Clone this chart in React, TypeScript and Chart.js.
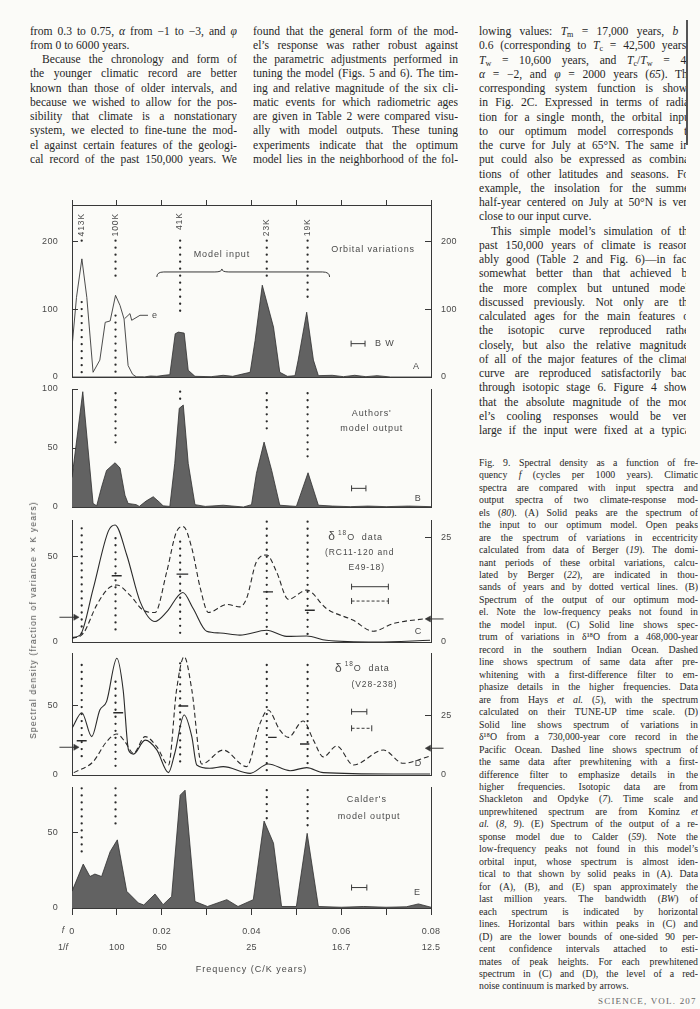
import React, { useEffect, useRef } from 'react';
import { Chart, registerables } from 'chart.js';

Chart.register(...registerables);

const FONT = '"Liberation Sans", Arial, sans-serif';
const SERIF = '"Liberation Serif", "Times New Roman", serif';
const INK = '#383838';
const TXT = '#4a4a4a';
const FILL = '#626262';
const PAPER = '#fbfbf8';

// ---------------- data ----------------
const X_TICKS = [0, 0.01, 0.02, 0.03, 0.04, 0.05, 0.06, 0.07, 0.08];
const FREQ_LABELS = ['0', '', '0.02', '', '0.04', '', '0.06', '', '0.08'];
const PERIOD_LABELS = ['', '100', '50', '', '25', '', '16.7', '', '12.5'];

const PERIOD_NAMES = ['413K', '100K', '41K', '23K', '19K'];
const PERIOD_FREQ = [0.00216, 0.0097, 0.0241, 0.0434, 0.0525];

// (A) orbital variations
const ECCENTRICITY_A = [
  [0, 44], [0.001, 118], [0.0022, 175], [0.0033, 118], [0.0047, 7], [0.0062, 25],
  [0.0074, 81], [0.0085, 83], [0.0097, 121], [0.0107, 106], [0.0116, 86], [0.0125, 17],
  [0.0135, 4], [0.0144, 0], [0.016, 0],
];
const ORBITAL_INPUT_A = [
  [0, 0], [0.016, 0], [0.0175, 1.5], [0.0189, 1], [0.0205, 2.5], [0.0218, 3.5], [0.023, 64],
  [0.0237, 66.5], [0.025, 65], [0.0259, 10], [0.0274, 1], [0.031, 0.5], [0.0337, 2.5],
  [0.0358, 1], [0.0397, 7], [0.0408, 54], [0.0424, 136], [0.0449, 74], [0.0463, 7],
  [0.048, 1], [0.0497, 2], [0.0504, 25], [0.0523, 96], [0.0538, 25], [0.0549, 2],
  [0.058, 2.5], [0.0605, 0.5], [0.063, 2.5], [0.0655, 0.5], [0.068, 2], [0.071, 0], [0.08, 0],
];
const E_ARROW_A = [[0.01174, 86.5], [0.01292, 93.9], [0.0133, 84], [0.01515, 91.4], [0.01693, 91.4]];

// (B) authors' model output
const MODEL_OUTPUT_B = [
  [0, 25], [0.0024, 97.7], [0.0047, 3], [0.0055, 1], [0.0066, 17], [0.0077, 31], [0.0096, 37.5],
  [0.0107, 33], [0.0118, 10], [0.0125, 3], [0.0143, 2], [0.015, 0.5], [0.0165, 5], [0.0181, 8.7],
  [0.0195, 4], [0.0203, 1], [0.0218, 0.5], [0.0229, 37], [0.0239, 83.6], [0.0248, 86.4],
  [0.0259, 37], [0.0274, 2], [0.0297, 0.5], [0.0337, 1.5], [0.0382, 0], [0.04, 2], [0.0411, 28.5],
  [0.0428, 55], [0.0445, 31], [0.0463, 1.5], [0.05, 0.5], [0.0526, 29], [0.0549, 1.5],
  [0.058, 0.8], [0.062, 0.3], [0.066, 0.8], [0.07, 0.3], [0.075, 0.8], [0.08, 0.3],
];

// (C) d18O RC11-120 and E49-18
const DATA_C_SOLID = [
  [0, 2.6], [0.0018, 4], [0.0047, 31], [0.0081, 65], [0.0096, 68.6], [0.0122, 51], [0.0152, 23.5],
  [0.0185, 12], [0.0211, 17.6], [0.0247, 29], [0.027, 19.6], [0.03, 6.3], [0.033, 5.3],
  [0.0374, 4], [0.0434, 6.9], [0.0478, 3.3], [0.0523, 3.5], [0.0567, 1], [0.0679, 0], [0.0798, 1],
];
const DATA_C_DASHED = [
  [0, 2], [0.0025, 5], [0.0055, 21.6], [0.0081, 31.4], [0.01, 33.4], [0.0129, 27.5], [0.0159, 18.6],
  [0.0185, 17.3], [0.0211, 41], [0.0233, 64.7], [0.0248, 67.6], [0.0267, 55], [0.0286, 31.4],
  [0.0304, 17.3], [0.0345, 22], [0.0374, 20.6], [0.0389, 25.5], [0.0411, 47], [0.0434, 51],
  [0.0456, 41], [0.0482, 25], [0.0523, 30.4], [0.0567, 19.6], [0.0627, 12.7], [0.0671, 6.3],
  [0.0716, 10.8], [0.0798, 14],
];
const CONF_BARS_C = [[0.00885, 0.01107, 38.8], [0.0233, 0.0259, 39.8], [0.0426, 0.0448, 29.4], [0.0519, 0.0541, 18.6]];

// (D) d18O V28-238
const DATA_D_SOLID = [
  [0, 33.5], [0.0022, 44.7], [0.0044, 27.5], [0.0062, 46.6], [0.0077, 52.6], [0.01, 83.7],
  [0.0114, 61], [0.0126, 17.9], [0.0137, 15], [0.0163, 25], [0.0189, 18], [0.0215, 1.7],
  [0.0229, 15.6], [0.025, 43], [0.0267, 27.5], [0.0278, 7.2], [0.0307, 4.8], [0.0337, 6],
  [0.0397, 1.2], [0.0437, 7.9], [0.0486, 3.1], [0.0523, 5.3], [0.056, 1.7], [0.0716, 0.7], [0.0798, 0.7],
];
const DATA_D_DASHED = [
  [0.0004, 1.7], [0.0047, 9.5], [0.0077, 23.9], [0.01, 29.4], [0.0118, 23.9], [0.0137, 15.6],
  [0.0163, 27.5], [0.0189, 20.3], [0.0215, 7.2], [0.0233, 61], [0.025, 84.9], [0.0267, 61],
  [0.0289, 7.9], [0.0337, 17.9], [0.0389, 6], [0.0419, 37], [0.0437, 46.6], [0.0463, 32.3],
  [0.0482, 27], [0.0515, 38.7], [0.0538, 25], [0.056, 13], [0.059, 20.8], [0.0627, 7.2],
  [0.0694, 17.9], [0.0738, 8.4], [0.0798, 13.6],
];
const CONF_BARS_D = [[0.00105, 0.00327, 24.6], [0.0092, 0.0114, 44.7], [0.0237, 0.0259, 49.5], [0.0437, 0.0456, 27], [0.0508, 0.0529, 22.2]];

// (E) Calder's model output
const CALDER_E = [
  [0, 11], [0.0025, 29], [0.004, 20.8], [0.0051, 22.4], [0.0066, 20.8], [0.0085, 37.2], [0.0101, 45],
  [0.0122, 11], [0.0148, 3.3], [0.016, 2], [0.0185, 9.2], [0.0203, 2.2], [0.0222, 7.6],
  [0.0241, 74.5], [0.0252, 77.8], [0.0274, 4.3], [0.0302, 1], [0.0345, 5.5], [0.037, 1],
  [0.0404, 5.5], [0.0428, 57.4], [0.0449, 42.8], [0.0467, 1], [0.05, 1], [0.0524, 49.3],
  [0.0549, 1], [0.06, 0.5], [0.065, 1], [0.07, 0.5], [0.0745, 0.8], [0.0772, 2.7], [0.08, 0.5],
];

// dotted period lines: [frequency, top, bottom]
const DOTS_A = [[0.00216, 202, 192], [0.00216, 111, 4], [0.0097, 202, 143], [0.0097, 91, 4], [0.0241, 202, 94], [0.0434, 202, 143], [0.0525, 202, 116]];
const DOTS_B = [[0.0097, 96.4, 49.7], [0.0241, 97.7, 90.7], [0.0434, 96.4, 62.5], [0.0525, 96.4, 37]];
const DOTS_C = [[0.00216, 66.6, 3.1], [0.0097, 60.8, 4.1], [0.0241, 58.8, 4.1], [0.0434, 70.5, 4.1], [0.0525, 70.5, 4.1]];
const DOTS_D = [[0.00216, 78.9, 9.5], [0.0097, 66.9, 3.6], [0.0241, 80.1, 6], [0.0434, 78.9, 2.4], [0.0525, 78.9, 3.6]];
const DOTS_E = [[0.00216, 79, 35], [0.0097, 79, 51.5], [0.0434, 77.8, 55.9], [0.0525, 77.8, 52.6]];

// bandwidth bars [f1, f2, level]
const BW_A = [0.0622, 0.0653, 49.4];
const BW_B = [0.0623, 0.0655, 15.8];
const BW_C_SOLID = [0.0623, 0.0705, 32.4];
const BW_C_DASHED = [0.0623, 0.0705, 24];
const BW_D_SOLID = [0.0623, 0.0657, 45.4];
const BW_D_DASHED = [0.0623, 0.0668, 33.5];
const BW_E = [0.0623, 0.0657, 13.5];

// red-noise arrows [from f, to f, level]
const ARROWS_C = [[-0.0028, 0.0008, 14.5], [0.0828, 0.0795, 13.5]];
const ARROWS_D = [[-0.0028, 0.0008, 19.9], [0.0828, 0.0795, 19.2]];

// axis ticks
const A_TICKS = [0, 100, 200];
const B_TICKS = [0, 50, 100];
const C_TICKS = [0, 50];
const C_RIGHT_TICKS = [0, 25];
const D_TICKS = [0, 50];
const D_RIGHT_TICKS = [0, 25];
const E_TICKS = [0, 50];

// ---------------- dataset helpers ----------------
const pts = (arr: number[][]) => arr.map(([x, y]) => ({ x, y }));
const base = { xAxisID: 'x', yAxisID: 'y', pointRadius: 0, tension: 0, fill: false };

const areaDS = (arr: number[][]) => ({
  ...base, data: pts(arr), fill: 'origin', backgroundColor: FILL, borderColor: '#2e2e2e', borderWidth: 0.8,
});
const curveDS = (arr: number[][], dashed = false) => ({
  ...base, data: pts(arr), borderColor: '#2a2a2a', borderWidth: 1.1, cubicInterpolationMode: 'monotone',
  borderDash: dashed ? [5, 3] : [],
});
const dotsDS = (segs: number[][]) => ({
  ...base,
  data: segs.flatMap(([f, t, b]) => [{ x: f, y: t }, { x: f, y: b }, { x: f, y: null }]),
  borderColor: '#2a2a2a', borderWidth: 2.3, borderDash: [0.01, 7], borderCapStyle: 'round', spanGaps: false,
});
const barsDS = (list: number[][]) => ({
  ...base,
  data: list.flatMap(([a, b, v]) => [{ x: a, y: v }, { x: b, y: v }, { x: b, y: null }]),
  borderColor: '#2a2a2a', borderWidth: 1.4, spanGaps: false,
});
const bwDS = ([a, b, v]: number[], dashed = false) => ({
  ...base, data: [{ x: a, y: v }, { x: b, y: v }], borderColor: INK, borderWidth: 1,
  borderDash: dashed ? [3, 2] : [], pointRadius: 3, pointStyle: 'line', pointRotation: 90,
  pointBorderColor: INK, pointBorderWidth: 1,
});
const arrowDS = ([a, b, v]: number[]) => ({
  ...base, data: [{ x: a, y: v }, { x: b, y: v }], borderColor: INK, borderWidth: 1, clip: false,
  pointRadius: [0, 3.5], pointStyle: 'triangle', pointRotation: b > a ? 90 : 270,
  pointBackgroundColor: INK, pointBorderColor: INK, pointBorderWidth: 0.5,
});
const lineDS = (arr: number[][]) => ({ ...base, data: pts(arr), borderColor: INK, borderWidth: 0.9 });

// ---------------- scales ----------------
const noPad = (s: any) => { s.paddingTop = 0; s.paddingBottom = 0; s.paddingLeft = 0; s.paddingRight = 0; };

const yAxis = (pos: string, max: number, ticks: number[], show = true) => ({
  type: 'linear', position: pos, min: 0, max,
  afterBuildTicks: (s: any) => { s.ticks = ticks.map((v) => ({ value: v })); },
  afterFit: (s: any) => { s.width = pos === 'left' ? 72 : 49; noPad(s); },
  grid: { display: true, drawOnChartArea: false, drawTicks: show, tickLength: -6, color: INK, lineWidth: 1 },
  border: { display: true, color: INK, width: 1 },
  ticks: { display: show, padding: pos === 'left' ? 20 : 16, color: TXT, font: { family: FONT, size: 9 } },
});
const xLine = (pos = 'bottom') => ({
  type: 'linear', position: pos, min: 0, max: 0.08,
  afterBuildTicks: (s: any) => { s.ticks = X_TICKS.map((v) => ({ value: v })); },
  afterFit: (s: any) => { s.height = 0; noPad(s); },
  grid: { display: false }, border: { display: true, color: INK, width: 1 }, ticks: { display: false },
});
const xTop = () => ({
  type: 'linear', position: 'top', min: 0, max: 0.08,
  afterBuildTicks: (s: any) => { s.ticks = X_TICKS.map((v) => ({ value: v })); },
  afterFit: (s: any) => { s.height = 15; noPad(s); },
  grid: { display: true, drawOnChartArea: false, drawTicks: true, tickLength: 5, color: INK },
  border: { display: true, color: INK, width: 1 }, ticks: { display: false },
});
const xBottomLabeled = () => ({
  type: 'linear', position: 'bottom', min: 0, max: 0.08,
  afterBuildTicks: (s: any) => { s.ticks = X_TICKS.map((v) => ({ value: v })); },
  afterFit: (s: any) => { s.height = 67; noPad(s); },
  grid: { display: true, drawOnChartArea: false, drawTicks: true, tickLength: 7, color: INK },
  border: { display: true, color: INK, width: 1 },
  ticks: {
    display: true, autoSkip: false, maxRotation: 0, minRotation: 0, padding: 8, color: TXT,
    font: { family: FONT, size: 9, lineHeight: 1.844 },
    callback: (_v: any, i: number) => [FREQ_LABELS[i], PERIOD_LABELS[i]],
  },
});

// ---------------- text overlay ----------------
type Part = { t: string; size: number; dy?: number };
type TextItem = { x: number; y: number; text?: string; parts?: Part[]; align?: string; size?: number; rotate?: number; spacing?: number };

const deltaParts: Part[] = [{ t: 'δ', size: 12 }, { t: ' ', size: 5 }, { t: '18', size: 6.5, dy: -4 }, { t: 'O  data', size: 9 }];

const TEXT_A: TextItem[] = [
  ...PERIOD_NAMES.map((n, i) => ({ x: PERIOD_FREQ[i], y: [243, 243, 244, 235, 235][i], text: n, rotate: -90, align: 'right', size: 8.5 })),
  { x: 0.0334, y: 182, text: 'Model input', align: 'center' },
  { x: 0.0671, y: 189, text: 'Orbital variations', align: 'center' },
  { x: 0.0675, y: 49.4, text: 'B W', align: 'left' },
  { x: 0.076, y: 15, text: 'A', align: 'left' },
  { x: 0.0178, y: 91.4, text: 'e', align: 'left' },
];
const TEXT_B: TextItem[] = [
  { x: 0.0668, y: 79.4, text: "Authors'", align: 'center' },
  { x: 0.0668, y: 66.7, text: 'model output', align: 'center' },
  { x: 0.0764, y: 7.4, text: 'B', align: 'left' },
];
const TEXT_C: TextItem[] = [
  { x: 0.0571, y: 61.5, parts: deltaParts, align: 'left' },
  { x: 0.0564, y: 52.2, text: '(RC11-120 and', align: 'left', size: 8.5 },
  { x: 0.0616, y: 43.6, text: 'E49-18)', align: 'left', size: 8.5 },
  { x: 0.0764, y: 6.4, text: 'C', align: 'left' },
];
const TEXT_D: TextItem[] = [
  { x: 0.0586, y: 76.5, parts: deltaParts, align: 'left' },
  { x: 0.0623, y: 64.6, text: '(V28-238)', align: 'left', size: 8.5 },
  { x: 0.0764, y: 7.9, text: 'D', align: 'left' },
];
const TEXT_E: TextItem[] = [
  { x: 0.0657, y: 71.7, text: "Calder's", align: 'center' },
  { x: 0.0662, y: 60.7, text: 'model output', align: 'center' },
  { x: 0.0762, y: 9.9, text: 'E', align: 'left' },
];

function overlay(spec: any) {
  return {
    id: 'overlay_' + spec.key,
    beforeDraw(chart: any) { chart.ctx.letterSpacing = '0.3px'; },
    afterDatasetsDraw(chart: any) {
      const ctx = chart.ctx;
      const xs = chart.scales.x;
      const ys = chart.scales.y;
      for (const it of spec.texts as TextItem[]) {
        const px = xs.getPixelForValue(it.x);
        const py = ys.getPixelForValue(it.y);
        const parts: Part[] = it.parts || [{ t: it.text || '', size: it.size || 9 }];
        ctx.save();
        ctx.translate(px, py);
        if (it.rotate) ctx.rotate((it.rotate * Math.PI) / 180);
        ctx.fillStyle = TXT;
        ctx.textBaseline = 'middle';
        ctx.textAlign = 'left';
        ctx.letterSpacing = (it.spacing ?? 0.9) + 'px';
        let total = 0;
        const widths = parts.map((p) => { ctx.font = `${p.size}px ${FONT}`; const w = ctx.measureText(p.t).width; total += w; return w; });
        let cx = it.align === 'center' ? -total / 2 : it.align === 'right' ? -total : 0;
        parts.forEach((p, i) => { ctx.font = `${p.size}px ${FONT}`; ctx.fillText(p.t, cx, p.dy || 0); cx += widths[i]; });
        ctx.restore();
      }
      if (spec.brace) {
        const b = spec.brace;
        const X1 = xs.getPixelForValue(b.x1), X2 = xs.getPixelForValue(b.x2), XM = xs.getPixelForValue(b.xm);
        const Y = ys.getPixelForValue(b.y);
        const r = 7;
        ctx.save();
        ctx.strokeStyle = INK; ctx.lineWidth = 1;
        ctx.beginPath();
        ctx.moveTo(X1, Y + 5);
        ctx.quadraticCurveTo(X1, Y, X1 + r, Y);
        ctx.lineTo(XM - r, Y);
        ctx.quadraticCurveTo(XM, Y, XM, Y - 3);
        ctx.quadraticCurveTo(XM, Y, XM + r, Y);
        ctx.lineTo(X2 - r, Y);
        ctx.quadraticCurveTo(X2, Y, X2, Y + 5);
        ctx.stroke();
        ctx.restore();
      }
      if (spec.xTitle) {
        ctx.save();
        ctx.fillStyle = TXT; ctx.font = `9px ${FONT}`; ctx.letterSpacing = '1px';
        ctx.textAlign = 'center'; ctx.textBaseline = 'middle';
        ctx.fillText(spec.xTitle, (xs.left + xs.right) / 2, xs.bottom - 5);
        ctx.restore();
      }
    },
  };
}

// ---------------- panels ----------------
const PANELS = [
  {
    key: 'A', top: 190, height: 195, padTop: 0, padBottom: 8,
    scales: { x: xTop(), xb: xLine('bottom'), y: yAxis('left', 254.8, A_TICKS), y2: yAxis('right', 254.8, A_TICKS) },
    datasets: [dotsDS(DOTS_A), lineDS(ECCENTRICITY_A), lineDS(E_ARROW_A), bwDS(BW_A), areaDS(ORBITAL_INPUT_A)],
    texts: TEXT_A, brace: { x1: 0.0189, x2: 0.0574, xm: 0.0334, y: 155.6 },
  },
  {
    key: 'B', top: 379, height: 136, padTop: 10, padBottom: 8,
    scales: { x: xLine(), y: yAxis('left', 100, B_TICKS), y2: yAxis('right', 100, [0], false) },
    datasets: [dotsDS(DOTS_B), bwDS(BW_B), areaDS(MODEL_OUTPUT_B)],
    texts: TEXT_B,
  },
  {
    key: 'C', top: 510, height: 140, padTop: 10, padBottom: 8,
    scales: { x: xLine(), y: yAxis('left', 71.5, C_TICKS), y2: yAxis('right', 29.13, C_RIGHT_TICKS) },
    datasets: [
      dotsDS(DOTS_C), barsDS(CONF_BARS_C), bwDS(BW_C_SOLID), bwDS(BW_C_DASHED, true),
      arrowDS(ARROWS_C[0]), arrowDS(ARROWS_C[1]), curveDS(DATA_C_SOLID), curveDS(DATA_C_DASHED, true),
    ],
    texts: TEXT_C,
  },
  {
    key: 'D', top: 643, height: 140, padTop: 10, padBottom: 8,
    scales: { x: xLine(), y: yAxis('left', 87.5, D_TICKS), y2: yAxis('right', 51.4, D_RIGHT_TICKS) },
    datasets: [
      dotsDS(DOTS_D), barsDS(CONF_BARS_D), bwDS(BW_D_SOLID), bwDS(BW_D_DASHED, true),
      arrowDS(ARROWS_D[0]), arrowDS(ARROWS_D[1]), curveDS(DATA_D_SOLID), curveDS(DATA_D_DASHED, true),
    ],
    texts: TEXT_D,
  },
  {
    key: 'E', top: 777, height: 198, padTop: 10, padBottom: 0,
    scales: { x: xBottomLabeled(), y: yAxis('left', 79.9, E_TICKS), y2: yAxis('right', 79.9, [0], false) },
    datasets: [dotsDS(DOTS_E), bwDS(BW_E), areaDS(CALDER_E)],
    texts: TEXT_E, xTitle: 'Frequency (C/K years)',
  },
];

function Panel({ spec }: { spec: any }) {
  const ref = useRef<HTMLCanvasElement | null>(null);
  useEffect(() => {
    const chart = new Chart(ref.current as HTMLCanvasElement, {
      type: 'line',
      data: { datasets: spec.datasets },
      options: {
        responsive: false,
        animation: false,
        events: [],
        layout: { padding: { top: spec.padTop, bottom: spec.padBottom, left: 0, right: 0 } },
        plugins: { legend: { display: false }, tooltip: { enabled: false }, title: { display: false } },
        scales: spec.scales,
      },
      plugins: [overlay(spec)],
    } as any);
    return () => chart.destroy();
  }, [spec]);
  return (
    <canvas
      ref={ref}
      width={480}
      height={spec.height}
      style={{ position: 'absolute', left: 0, top: spec.top, width: 480, height: spec.height }}
    />
  );
}

// ---------------- page text ----------------
const J = 0, END = 1, IND = 2;
const Tsub = (s: string) => (
  <>
    <i>T</i>
    <sub style={{ fontSize: '0.7em', verticalAlign: '-0.2em', lineHeight: 0 }}>{s}</sub>
  </>
);

const COL1: [React.ReactNode, number][] = [
  [<>from 0.3 to 0.75, <i>α</i> from −1 to −3, and <i>φ</i></>, J],
  ['from 0 to 6000 years.', END],
  ['Because the chronology and form of', IND],
  ['the younger climatic record are better', J],
  ['known than those of older intervals, and', J],
  ['because we wished to allow for the pos-', J],
  ['sibility that climate is a nonstationary', J],
  ['system, we elected to fine-tune the mod-', J],
  ['el against certain features of the geologi-', J],
  ['cal record of the past 150,000 years. We', J],
];
const COL2: [React.ReactNode, number][] = [
  ['found that the general form of the mod-', J],
  ['el\u2019s response was rather robust against', J],
  ['the parametric adjustments performed in', J],
  ['tuning the model (Figs. 5 and 6). The tim-', J],
  ['ing and relative magnitude of the six cli-', J],
  ['matic events for which radiometric ages', J],
  ['are given in Table 2 were compared visu-', J],
  ['ally with model outputs. These tuning', J],
  ['experiments indicate that the optimum', J],
  ['model lies in the neighborhood of the fol-', J],
];
const COL3: [React.ReactNode, number][] = [
  [<>lowing values: {Tsub('m')} = 17,000 years, <i>b</i> =</>, J],
  [<>0.6 (corresponding to {Tsub('c')} = 42,500 years),</>, J],
  [<>{Tsub('w')} = 10,600 years, and {Tsub('c')}/{Tsub('w')} = 4),</>, J],
  [<><i>α</i> = −2, and <i>φ</i> = 2000 years (<i>65</i>). The</>, J],
  ['corresponding system function is shown', J],
  ['in Fig. 2C. Expressed in terms of radia-', J],
  ['tion for a single month, the orbital input', J],
  ['to our optimum model corresponds to', J],
  ['the curve for July at 65°N. The same in-', J],
  ['put could also be expressed as combina-', J],
  ['tions of other latitudes and seasons. For', J],
  ['example, the insolation for the summer', J],
  ['half-year centered on July at 50°N is very', J],
  ['close to our input curve.', END],
  ['This simple model\u2019s simulation of the', IND],
  ['past 150,000 years of climate is reason-', J],
  ['ably good (Table 2 and Fig. 6)—in fact,', J],
  ['somewhat better than that achieved by', J],
  ['the more complex but untuned models', J],
  ['discussed previously. Not only are the', J],
  ['calculated ages for the main features of', J],
  ['the isotopic curve reproduced rather', J],
  ['closely, but also the relative magnitudes', J],
  ['of all of the major features of the climate', J],
  ['curve are reproduced satisfactorily back', J],
  ['through isotopic stage 6. Figure 4 shows', J],
  ['that the absolute magnitude of the mod-', J],
  ['el\u2019s cooling responses would be very', J],
  ['large if the input were fixed at a typical', J],
];
const CAPTION = [
  'Fig. 9. Spectral density as a function of fre-',
  'quency f (cycles per 1000 years). Climatic',
  'spectra are compared with input spectra and',
  'output spectra of two climate-response mod-',
  'els (80). (A) Solid peaks are the spectrum of',
  'the input to our optimum model. Open peaks',
  'are the spectrum of variations in eccentricity',
  'calculated from data of Berger (19). The domi-',
  'nant periods of these orbital variations, calcu-',
  'lated by Berger (22), are indicated in thou-',
  'sands of years and by dotted vertical lines. (B)',
  'Spectrum of the output of our optimum mod-',
  'el. Note the low-frequency peaks not found in',
  'the model input. (C) Solid line shows spec-',
  'trum of variations in δ¹⁸O from a 468,000-year',
  'record in the southern Indian Ocean. Dashed',
  'line shows spectrum of same data after pre-',
  'whitening with a first-difference filter to em-',
  'phasize details in the higher frequencies. Data',
  'are from Hays et al. (5), with the spectrum',
  'calculated on their TUNE-UP time scale. (D)',
  'Solid line shows spectrum of variations in',
  'δ¹⁸O from a 730,000-year core record in the',
  'Pacific Ocean. Dashed line shows spectrum of',
  'the same data after prewhitening with a first-',
  'difference filter to emphasize details in the',
  'higher frequencies. Isotopic data are from',
  'Shackleton and Opdyke (7). Time scale and',
  'unprewhitened spectrum are from Kominz et',
  'al. (8, 9). (E) Spectrum of the output of a re-',
  'sponse model due to Calder (59). Note the',
  'low-frequency peaks not found in this model\u2019s',
  'orbital input, whose spectrum is almost iden-',
  'tical to that shown by solid peaks in (A). Data',
  'for (A), (B), and (E) span approximately the',
  'last million years. The bandwidth (BW) of',
  'each spectrum is indicated by horizontal',
  'lines. Horizontal bars within peaks in (C) and',
  '(D) are the lower bounds of one-sided 90 per-',
  'cent confidence intervals attached to esti-',
  'mates of peak heights. For each prewhitened',
  'spectrum in (C) and (D), the level of a red-',
  'noise continuum is marked by arrows.',
];

function capRich(s: string) {
  const re = /(\(\d+(?:, \d+)*\)|et al\.|\bf\b|\bet\b(?= *$)|^al\.|BW)/g;
  const out: React.ReactNode[] = [];
  let last = 0;
  let m: RegExpExecArray | null;
  let k = 0;
  while ((m = re.exec(s))) {
    out.push(s.slice(last, m.index));
    const t = m[0];
    if (t.startsWith('(')) out.push('(', <i key={k++}>{t.slice(1, -1)}</i>, ')');
    else out.push(<i key={k++}>{t}</i>);
    last = m.index + t.length;
  }
  out.push(s.slice(last));
  return out;
}

function TextCol({ lines, left, top, width, lh, size, clip }: any) {
  return (
    <div style={{ position: 'absolute', left, top, width: clip ?? width, overflow: 'hidden', fontFamily: SERIF, fontSize: size, color: '#262626' }}>
      {lines.map(([node, flag]: [React.ReactNode, number], i: number) => (
        <div
          key={i}
          style={{
            width, height: lh, lineHeight: lh + 'px', whiteSpace: 'nowrap',
            textAlign: flag === END ? 'left' : 'justify',
            textAlignLast: flag === END ? 'left' : 'justify',
            textIndent: flag === IND ? 12 : 0,
          } as any}
        >
          {node}
        </div>
      ))}
    </div>
  );
}

export default function App() {
  return (
    <div style={{ position: 'absolute', left: 0, top: 0, width: 700, height: 1009, background: PAPER, overflow: 'hidden' }}>
      <TextCol lines={COL1} left={30} top={24.6} width={207} lh={14.25} size={11.6} />
      <TextCol lines={COL2} left={253} top={24.6} width={205} lh={14.25} size={11.6} />
      <TextCol lines={COL3} left={479} top={25.2} width={214} clip={207} lh={14.25} size={11.6} />
      <div style={{ position: 'absolute', left: 686, top: 20, width: 1.5, height: 125, background: '#555' }} />
      <TextCol
        lines={CAPTION.map((s, i) => [capRich(s), i === CAPTION.length - 1 ? END : J])}
        left={479} top={456.8} width={219} lh={12.48} size={9.8}
      />
      <div style={{ position: 'absolute', left: 598, top: 996, whiteSpace: 'nowrap', fontFamily: SERIF, fontSize: 9, letterSpacing: 1.2, color: '#666' }}>
        SCIENCE, VOL. 207
      </div>

      {PANELS.map((p) => <Panel key={p.key} spec={p} />)}

      <div
        style={{
          position: 'absolute', left: 33, top: 620, transform: 'translate(-50%, -50%) rotate(-90deg)',
          whiteSpace: 'nowrap', fontFamily: FONT, fontSize: 8.5, letterSpacing: 1.2, color: TXT,
        }}
      >
        Spectral density (fraction of variance × K years)
      </div>
      <div style={{ position: 'absolute', left: 56, top: 925, width: 14, textAlign: 'center', fontFamily: FONT, fontSize: 9, color: TXT }}>
        <i>f</i>
      </div>
      <div style={{ position: 'absolute', left: 52, top: 942, width: 22, textAlign: 'center', fontFamily: FONT, fontSize: 9, color: TXT }}>
        1/<i>f</i>
      </div>
    </div>
  );
}
